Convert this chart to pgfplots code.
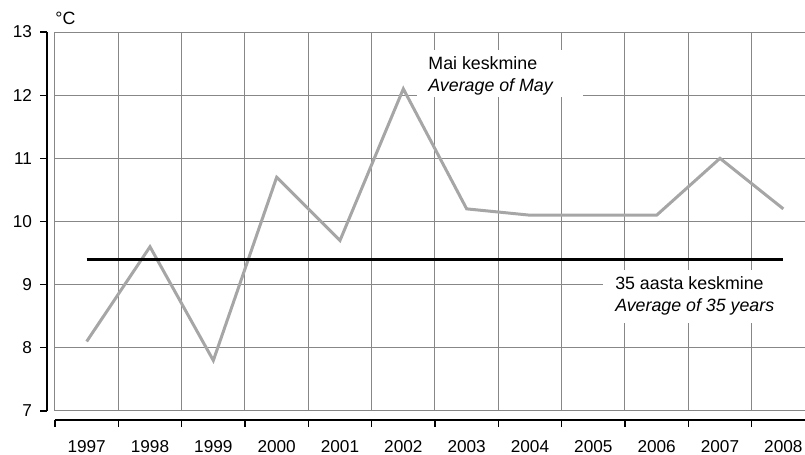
\documentclass[border=0pt]{standalone}
\usepackage{fontspec}
\setmainfont{Liberation Sans}
\usepackage{pgfplots}
\pgfplotsset{compat=1.18}
\definecolor{gridgray}{RGB}{135,135,135}
\definecolor{linegray}{RGB}{166,166,166}

\begin{document}
\begin{tikzpicture}[font=\fontsize{8.9}{10.7}\selectfont]
\begin{axis}[
  scale only axis,
  width=380pt, height=189.5pt,
  xmin=0, xmax=12, ymin=7, ymax=13,
  xtick={0.5,1.5,2.5,3.5,4.5,5.5,6.5,7.5,8.5,9.5,10.5,11.5},
  xticklabels={1997,1998,1999,2000,2001,2002,2003,2004,2005,2006,2007,2008},
  minor xtick={0,1,...,12},
  ytick={7,8,...,13},
  xmajorgrids=false, xminorgrids=true, ymajorgrids=true,
  grid style={gridgray, line width=0.5pt},
  minor grid style={gridgray, line width=0.5pt},
  axis line style={draw=none},
  major tick length=0pt, minor tick length=0pt,
  tick style={draw=none},
  tick label style={font=\fontsize{8.6}{10}\selectfont},
  xticklabel style={yshift=-11pt},
  yticklabel style={xshift=-8pt},
  /pgf/number format/assume math mode=true,
  clip=false,
]
% May averages
\addplot[linegray, line width=1.5pt] coordinates {
  (0.5,8.1) (1.5,9.6) (2.5,7.8) (3.5,10.7) (4.5,9.7) (5.5,12.1)
  (6.5,10.2) (7.5,10.1) (8.5,10.1) (9.5,10.1) (10.5,11.0) (11.5,10.2)
};
% 35-year average
\addplot[black, line width=1.2pt] coordinates {(0.5,9.4) (11.5,9.4)};

% label boxes
\fill[white] (axis cs:5.72,11.97) rectangle (axis cs:8.34,12.71);
\fill[white] (axis cs:8.65,8.39) rectangle (axis cs:11.9,9.23);
\node[anchor=west, inner sep=0] at (axis cs:5.89,12.51) {Mai keskmine};
\node[anchor=west, inner sep=0] at (axis cs:5.89,12.13) {\itshape Average of May};
\node[anchor=west, inner sep=0] at (axis cs:8.84,9.03) {35 aasta keskmine};
\node[anchor=west, inner sep=0] at (axis cs:8.84,8.65) {\itshape Average of 35 years};
\node[anchor=base west, inner sep=0] at ([yshift=4pt]rel axis cs:0,1) {°C};

% offset axis lines
\draw[line width=1.3pt] ([xshift=-4pt]rel axis cs:0,0) -- ([xshift=-4pt]rel axis cs:0,1);
\pgfplotsinvokeforeach{7,...,13}{
  \draw[line width=0.6pt] ([xshift=-4pt]axis cs:0,#1) -- ([xshift=-7.5pt]axis cs:0,#1);
}
\draw[line width=1.3pt] ([yshift=-4.5pt]rel axis cs:0,0) -- ([yshift=-4.5pt]rel axis cs:1,0);
\pgfplotsinvokeforeach{0,...,12}{
  \draw[line width=0.6pt] ([yshift=-4.5pt]axis cs:#1,7) -- ([yshift=-8pt]axis cs:#1,7);
}
\end{axis}
\pgfresetboundingbox
\useasboundingbox (-27.5pt,-22pt) rectangle (375pt,205.5pt);
\end{tikzpicture}
\end{document}
